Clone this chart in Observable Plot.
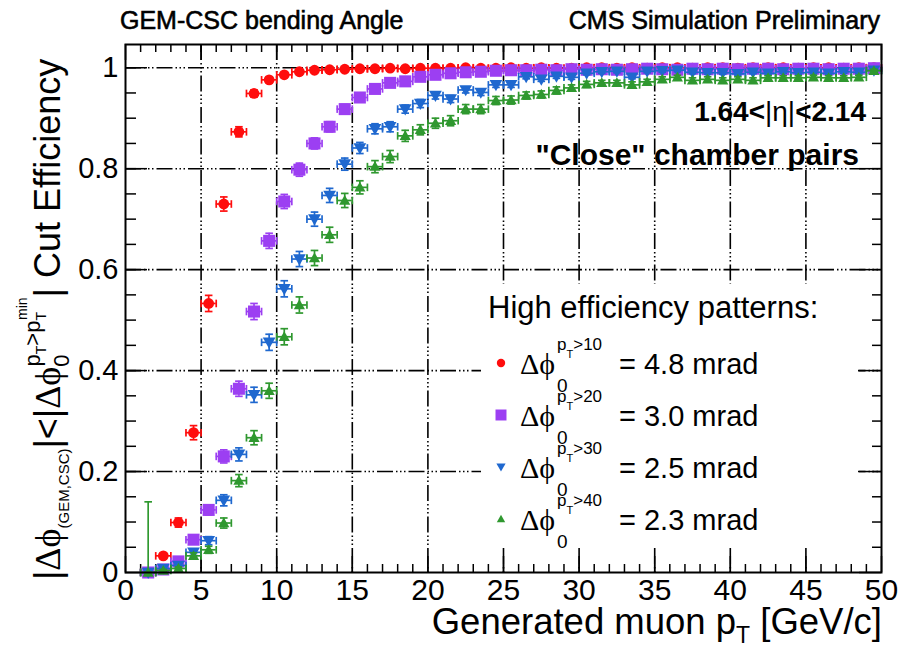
<!DOCTYPE html>
<html>
<head>
<meta charset="utf-8">
<script src="https://cdn.jsdelivr.net/npm/d3@7"></script>
<script src="https://cdn.jsdelivr.net/npm/@observablehq/plot@0.6"></script>
<style>
  html, body { margin: 0; padding: 0; background: #fff; }
  #chart { width: 901px; height: 652px; }
</style>
</head>
<body>
<div id="chart"></div>
<script>
// Bin centres of generated muon pT [GeV/c], 1 GeV bins
const ptBins = [1.5, 2.5, 3.5, 4.5, 5.5, 6.5, 7.5, 8.5, 9.5, 10.5,
  11.5, 12.5, 13.5, 14.5, 15.5, 16.5, 17.5, 18.5, 19.5, 20.5,
  21.5, 22.5, 23.5, 24.5, 25.5, 26.5, 27.5, 28.5, 29.5, 30.5,
  31.5, 32.5, 33.5, 34.5, 35.5, 36.5, 37.5, 38.5, 39.5, 40.5,
  41.5, 42.5, 43.5, 44.5, 45.5, 46.5, 47.5, 48.5, 49.5];

// Cut efficiency, pT > 10 pattern (4.8 mrad)
const effPt10 = [0.000, 0.033, 0.099, 0.277, 0.533, 0.730, 0.873, 0.949, 0.976, 0.986,
  0.992, 0.995, 0.996, 0.997, 0.998, 0.998, 0.999, 0.998, 0.999, 0.999,
  0.999, 1.000, 0.999, 0.999, 1.000, 0.999, 1.000, 0.999, 0.999, 1.000,
  1.000, 0.999, 1.000, 0.999, 1.000, 1.000, 0.999, 1.000, 1.000, 0.999,
  1.000, 1.000, 1.000, 0.999, 1.000, 1.000, 0.999, 1.000, 1.000];
const errPt10 = [0.002, 0.005, 0.009, 0.014, 0.016, 0.014, 0.010, 0.007, 0.005, 0.004,
  0.003, 0.003, 0.002, 0.002, 0.002, 0.002, 0.002, 0.002, 0.002, 0.002,
  0.002, 0.002, 0.002, 0.002, 0.002, 0.002, 0.002, 0.002, 0.002, 0.002,
  0.002, 0.002, 0.002, 0.002, 0.002, 0.002, 0.002, 0.002, 0.002, 0.002,
  0.002, 0.002, 0.002, 0.002, 0.002, 0.002, 0.002, 0.002, 0.002];

// Cut efficiency, pT > 20 pattern (3.0 mrad)
const effPt20 = [0.000, 0.006, 0.022, 0.065, 0.124, 0.230, 0.364, 0.517, 0.657, 0.735,
  0.798, 0.850, 0.883, 0.918, 0.941, 0.958, 0.970, 0.973, 0.982, 0.986,
  0.989, 0.991, 0.992, 0.994, 0.995, 0.995, 0.996, 0.995, 0.997, 0.996,
  0.997, 0.996, 0.997, 0.998, 0.997, 0.996, 0.998, 0.997, 0.998, 0.997,
  0.998, 0.998, 0.997, 0.998, 0.998, 0.997, 0.998, 0.998, 0.999];
const errPt20 = [0.002, 0.003, 0.005, 0.008, 0.010, 0.013, 0.015, 0.016, 0.015, 0.014,
  0.013, 0.011, 0.010, 0.009, 0.008, 0.006, 0.005, 0.005, 0.004, 0.004,
  0.003, 0.003, 0.003, 0.003, 0.002, 0.002, 0.002, 0.002, 0.002, 0.002,
  0.002, 0.002, 0.002, 0.002, 0.002, 0.002, 0.002, 0.002, 0.002, 0.002,
  0.002, 0.002, 0.002, 0.002, 0.002, 0.002, 0.002, 0.002, 0.002];

// Cut efficiency, pT > 30 pattern (2.5 mrad)
const effPt30 = [0.000, 0.008, 0.014, 0.040, 0.063, 0.143, 0.234, 0.352, 0.456, 0.562,
  0.621, 0.700, 0.747, 0.809, 0.841, 0.879, 0.883, 0.918, 0.929, 0.945,
  0.938, 0.956, 0.951, 0.966, 0.966, 0.982, 0.977, 0.983, 0.981, 0.989,
  0.992, 0.993, 0.981, 0.993, 0.994, 0.995, 0.991, 0.990, 0.990, 0.988,
  0.991, 0.989, 0.992, 0.990, 0.991, 0.989, 0.992, 0.991, 0.995];
const errPt30 = [0.002, 0.003, 0.004, 0.006, 0.008, 0.011, 0.013, 0.015, 0.016, 0.016,
  0.015, 0.014, 0.014, 0.012, 0.011, 0.010, 0.010, 0.008, 0.008, 0.007,
  0.007, 0.006, 0.006, 0.005, 0.005, 0.004, 0.004, 0.004, 0.004, 0.003,
  0.003, 0.003, 0.003, 0.003, 0.003, 0.003, 0.003, 0.003, 0.003, 0.003,
  0.003, 0.003, 0.003, 0.003, 0.003, 0.003, 0.003, 0.003, 0.003];

// Cut efficiency, pT > 40 pattern (2.3 mrad)
const effPt40 = [0.000, 0.004, 0.008, 0.033, 0.045, 0.098, 0.182, 0.267, 0.360, 0.467,
  0.530, 0.623, 0.669, 0.737, 0.763, 0.804, 0.824, 0.865, 0.877, 0.890,
  0.895, 0.918, 0.918, 0.935, 0.936, 0.945, 0.947, 0.955, 0.960, 0.967,
  0.970, 0.970, 0.966, 0.972, 0.977, 0.981, 0.975, 0.977, 0.975, 0.977,
  0.975, 0.980, 0.980, 0.980, 0.981, 0.980, 0.980, 0.981, 0.994];
const errPt40 = [0.140, 0.002, 0.003, 0.006, 0.007, 0.010, 0.012, 0.014, 0.015, 0.016,
  0.016, 0.015, 0.015, 0.014, 0.013, 0.012, 0.012, 0.011, 0.010, 0.010,
  0.010, 0.009, 0.009, 0.008, 0.008, 0.007, 0.007, 0.007, 0.006, 0.006,
  0.005, 0.005, 0.006, 0.005, 0.005, 0.004, 0.005, 0.005, 0.005, 0.005,
  0.005, 0.004, 0.004, 0.004, 0.004, 0.004, 0.004, 0.004, 0.003];

const ptThresholds = ["10", "20", "30", "40"];
const windowMrad = ["4.8", "3.0", "2.5", "2.3"];
const seriesColors = ["#ff0d0d", "#9c3ff2", "#1f68cf", "#2f982f"];

const xTicks = [0, 5, 10, 15, 20, 25, 30, 35, 40, 45, 50];
const yTicks = [0, 0.2, 0.4, 0.6, 0.8, 1];

// ---- marker shapes (ROOT style) ----
const rad = (size) => Math.sqrt(size / Math.PI);
const triangleDown = { draw(ctx, size) { const r = rad(size);
  ctx.moveTo(0, r); ctx.lineTo(-r, -0.75 * r); ctx.lineTo(r, -0.75 * r); ctx.closePath(); } };
const triangleUp = { draw(ctx, size) { const r = rad(size);
  ctx.moveTo(0, -r); ctx.lineTo(-r, 0.75 * r); ctx.lineTo(r, 0.75 * r); ctx.closePath(); } };
const capH = { draw(ctx, size) { const r = rad(size); ctx.moveTo(-r, 0); ctx.lineTo(r, 0); } };
const capV = { draw(ctx, size) { const r = rad(size); ctx.moveTo(0, -r); ctx.lineTo(0, r); } };

const seriesDefs = [
  { eff: effPt10, err: errPt10, symbol: "circle", r: 5.4 },
  { eff: effPt20, err: errPt20, symbol: "square", r: 6.8 },
  { eff: effPt30, err: errPt30, symbol: triangleDown, r: 6.4 },
  { eff: effPt40, err: errPt40, symbol: triangleUp, r: 5.6 }
];

const W = 901, H = 652, mL = 125, mR = 20, mT = 44, mB = 80;
const innerW = W - mL - mR, innerH = H - mT - mB;
const FONT = "'Liberation Sans', Arial, Helvetica, sans-serif";
const GREEK = "'Liberation Serif', 'DejaVu Serif', serif";
const gridDash = "16,3,1.5,2.5,1.5,2.5,1.5,3";

const marks = [];

// dash-dot grid at the major ticks
marks.push(Plot.ruleX(xTicks.slice(1, -1), { stroke: "#000", strokeWidth: 1.6, strokeDasharray: gridDash }));
marks.push(Plot.ruleY(yTicks.slice(1), { stroke: "#000", strokeWidth: 1.6, strokeDasharray: gridDash }));

// inward ticks on all four sides
const xMinor = d3.range(1, 50);
const yMinor = d3.range(1, 21).map(i => i * 0.05);
const tick = { stroke: "#000", strokeWidth: 1.5 };
marks.push(Plot.ruleX(xMinor, { ...tick, insetTop: innerH - 8 }));
marks.push(Plot.ruleX(xMinor, { ...tick, insetBottom: innerH - 8 }));
marks.push(Plot.ruleX(xTicks, { ...tick, insetTop: innerH - 16 }));
marks.push(Plot.ruleX(xTicks, { ...tick, insetBottom: innerH - 16 }));
marks.push(Plot.ruleY(yMinor, { ...tick, insetRight: innerW - 11 }));
marks.push(Plot.ruleY(yMinor, { ...tick, insetLeft: innerW - 9 }));
marks.push(Plot.ruleY(yTicks, { ...tick, insetRight: innerW - 22 }));
marks.push(Plot.ruleY(yTicks, { ...tick, insetLeft: innerW - 22 }));

// efficiency points with x (bin width) and y error bars
seriesDefs.forEach((s, k) => {
  const rows = ptBins.map((pt, i) => ({ pt, eff: s.eff[i], err: s.err[i] }));
  const color = seriesColors[k];
  const line = { stroke: color, strokeWidth: 1.7 };
  const lo = d => Math.max(0, d.eff - d.err);
  const hi = d => Math.min(1, d.eff + d.err);
  marks.push(Plot.ruleY(rows, { ...line, y: "eff", x1: d => d.pt - 0.5, x2: d => d.pt + 0.5 }));
  marks.push(Plot.ruleX(rows, { ...line, x: "pt", y1: lo, y2: hi }));
  marks.push(Plot.dot(rows, { ...line, fill: "none", symbol: capV, r: 3.8, x: d => d.pt - 0.5, y: "eff" }));
  marks.push(Plot.dot(rows, { ...line, fill: "none", symbol: capV, r: 3.8, x: d => d.pt + 0.5, y: "eff" }));
  marks.push(Plot.dot(rows, { ...line, fill: "none", symbol: capH, r: 3.8, x: "pt", y: lo }));
  marks.push(Plot.dot(rows, { ...line, fill: "none", symbol: capH, r: 3.8, x: "pt", y: hi }));
  marks.push(Plot.dot(rows, { x: "pt", y: "eff", symbol: s.symbol, r: s.r, fill: color, stroke: "none" }));
});

marks.push(Plot.frame({ stroke: "#000", strokeWidth: 2 }));
marks.push(Plot.axisX(xTicks, { anchor: "bottom", tickSize: 0, tickPadding: 6, fontSize: 30, label: null, tickFormat: d => String(d) }));
marks.push(Plot.axisY(yTicks, { anchor: "left", tickSize: 0, tickPadding: 7, fontSize: 29, label: null, tickFormat: d => String(d) }));

const chart = Plot.plot({
  width: W, height: H,
  marginLeft: mL, marginRight: mR, marginTop: mT, marginBottom: mB,
  x: { domain: [0, 50] },
  y: { domain: [0, 1.046] },
  style: { fontFamily: FONT, background: "#fff", color: "#000", overflow: "visible" },
  marks
});
document.getElementById("chart").append(chart);

const svg = d3.select(chart);

// Rich text helper: parts carry their own size, baseline shift and optional dx
function richText(parent, attrs, parts) {
  const t = parent.append("text").attr("fill", "#000").attr("font-family", FONT).attr("text-anchor", "start");
  for (const [k, v] of Object.entries(attrs)) t.attr(k, v);
  let cur = 0;
  for (const p of parts) {
    const ts = t.append("tspan").text(p.text).attr("font-size", p.size);
    const target = p.shift || 0;
    if (target !== cur) ts.attr("dy", target - cur);
    if (p.dx) ts.attr("dx", p.dx);
    if (p.weight) ts.attr("font-weight", p.weight);
    if (p.family) ts.attr("font-family", p.family);
    cur = target;
  }
  return t;
}

// headers
const heavy = { stroke: "#000", "stroke-width": 0.6 };
richText(svg, { x: 120, y: 29, ...heavy }, [{ text: "GEM-CSC bending Angle", size: 25 }]);
richText(svg, { x: 880, y: 29, "text-anchor": "end", ...heavy }, [{ text: "CMS Simulation Preliminary", size: 25 }]);

// x-axis title
richText(svg, { x: 882, y: 634, "text-anchor": "end" }, [
  { text: "Generated muon p", size: 36.5 },
  { text: "T", size: 23, shift: 9 },
  { text: " [GeV/c]", size: 36.5, shift: 0 }
]);

// y-axis title
richText(svg, { transform: "translate(60,580) rotate(-90)" }, [
  { text: "|", size: 36 },
  { text: "Δϕ", size: 36, family: GREEK },
  { text: "(GEM,CSC)", size: 15, shift: 9 },
  { text: "|<|", size: 36, shift: 0 },
  { text: "Δϕ", size: 36, family: GREEK },
  { text: "0", size: 22, shift: 9 },
  { text: "p", size: 22, shift: -20, dx: -12 },
  { text: "T", size: 14, shift: -14 },
  { text: ">p", size: 22, shift: -20 },
  { text: "T", size: 14, shift: -14 },
  { text: "min", size: 14, shift: -33, dx: -8 },
  { text: "| Cut Efficiency", size: 36, shift: 0 }
]);

// region labels
richText(svg, { x: 866, y: 121, "text-anchor": "end", "font-weight": "bold" }, [
  { text: "1.64<", size: 28 },
  { text: "|η|", size: 28, weight: "normal" },
  { text: "<2.14", size: 28 }
]);
richText(svg, { x: 859, y: 165, "text-anchor": "end", "font-weight": "bold" }, [
  { text: "\"Close\" chamber pairs", size: 30 }
]);

// legend
const legend = svg.append("g");
legend.append("rect").attr("x", 481).attr("y", 284).attr("width", 377).attr("height", 262).attr("fill", "#fff");
richText(legend, { x: 488, y: 318 }, [{ text: "High efficiency patterns:", size: 31 }]);
const legendRowY = [363, 415, 467, 519];
const legendSymbols = [d3.symbolCircle, d3.symbolSquare, triangleDown, triangleUp];
const legendR = [4.2, 6.2, 4.6, 4.2];
seriesColors.forEach((color, k) => {
  const y = legendRowY[k];
  legend.append("path")
    .attr("transform", `translate(501,${y})`)
    .attr("d", d3.symbol(legendSymbols[k], legendR[k] * legendR[k] * Math.PI)())
    .attr("fill", color);
  richText(legend, { x: 520, y: y + 11 }, [{ text: "Δϕ", size: 30, family: GREEK }]);
  richText(legend, { x: 557, y: y - 13 }, [
    { text: "p", size: 17 },
    { text: "T", size: 11, shift: 8 },
    { text: ">" + ptThresholds[k], size: 17, shift: 0 }
  ]);
  richText(legend, { x: 557, y: y + 29 }, [{ text: "0", size: 19 }]);
  richText(legend, { x: 619, y: y + 11 }, [{ text: "= " + windowMrad[k] + " mrad", size: 29 }]);
});
</script>
</body>
</html>
